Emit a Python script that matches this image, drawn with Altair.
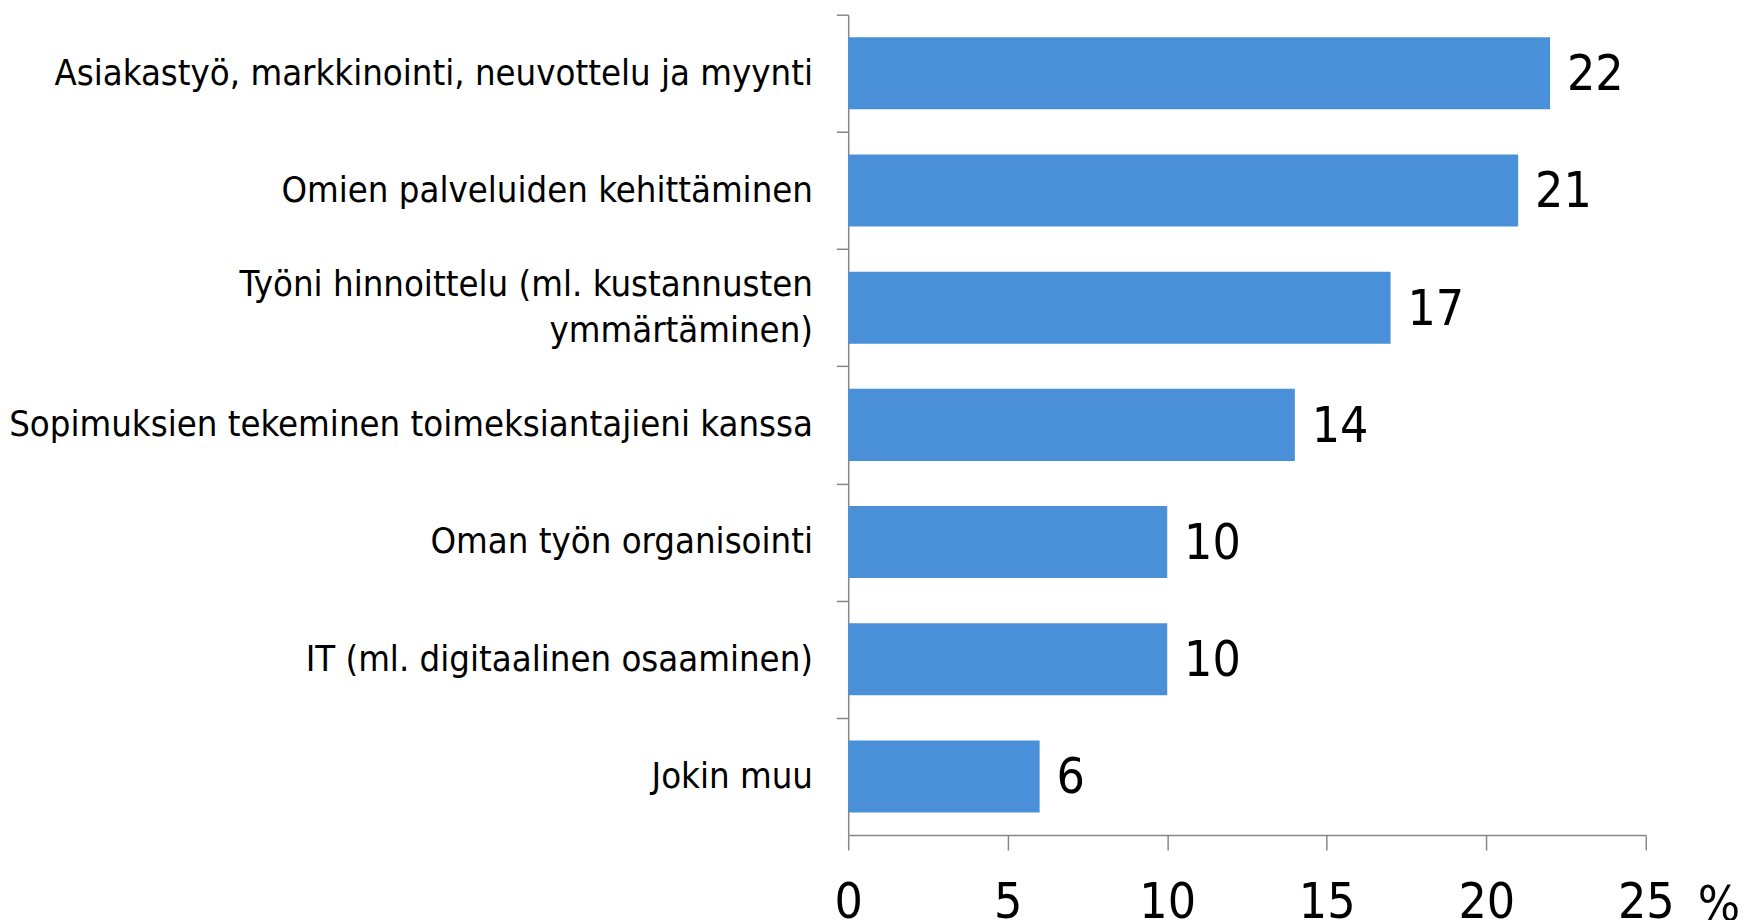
import altair as alt
import pandas as pd

categories = [
    "Asiakastyö, markkinointi, neuvottelu ja myynti",
    "Omien palveluiden kehittäminen",
    "Työni hinnoittelu (ml. kustannusten|ymmärtäminen)",
    "Sopimuksien tekeminen toimeksiantajieni kanssa",
    "Oman työn organisointi",
    "IT (ml. digitaalinen osaaminen)",
    "Jokin muu",
]
values = [22, 21, 17, 14, 10, 10, 6]
x_ticks = [0, 5, 10, 15, 20, 25]

df = pd.DataFrame({"cat": categories, "val": values})

FONT = "DejaVu Sans Condensed, DejaVu Sans"
GRAY = "#868686"
H = 827
STEP = H / len(categories)
HALF = STEP / 2

y_enc = alt.Y(
    "cat:N",
    sort=categories,
    title=None,
    scale=alt.Scale(paddingInner=0.385, paddingOuter=0.1925),
    axis=alt.Axis(
        tickOffset=-HALF,
        tickExtra=True,
        tickSize=12,
        tickColor=GRAY,
        tickWidth=1.5,
        domainColor=GRAY,
        domainWidth=1.5,
        labelFont=FONT,
        labelFontSize=36.5,
        labelColor="black",
        labelPadding=24,
        labelLimit=900,
        labelLineHeight=46,
        labelOffset={
            "condition": {"test": "indexof(datum.label, '|') >= 0", "value": HALF - 23},
            "value": HALF,
        },
        labelExpr="split(datum.label, '|')",
    ),
)

x_enc = alt.X(
    "val:Q",
    scale=alt.Scale(domain=[0, 25], nice=False),
    axis=alt.Axis(
        values=x_ticks,
        grid=False,
        tickSize=15,
        tickColor=GRAY,
        tickWidth=1.5,
        domainColor=GRAY,
        domainWidth=1.5,
        labelFont=FONT,
        labelFontSize=50,
        labelColor="black",
        labelPadding=28,
        labelFlush=False,
        title="%",
        titleFont=FONT,
        titleFontSize=50,
        titleFontWeight="normal",
        titleColor="black",
        titleAlign="left",
        titleAnchor="start",
        titleBaseline="top",
        titleX=856,
        titleY=46,
    ),
)

bars = alt.Chart(df).mark_bar(color="#4a90d9").encode(y=y_enc, x=x_enc)

text = alt.Chart(df).mark_text(
    align="left", baseline="middle", dx=17, dy=2, fontSize=50, font=FONT, color="black"
).encode(y=alt.Y("cat:N", sort=categories), x=alt.X("val:Q"), text="val:Q")

chart = (
    alt.layer(bars, text)
    .properties(
        width=804,
        height=H,
        autosize=alt.AutoSizeParams(type="none"),
        padding={"left": 847, "top": 3, "right": 97, "bottom": 100},
    )
    .configure_view(stroke=None)
)

chart.save("out.html", embed_options={"renderer": "svg", "actions": False})
